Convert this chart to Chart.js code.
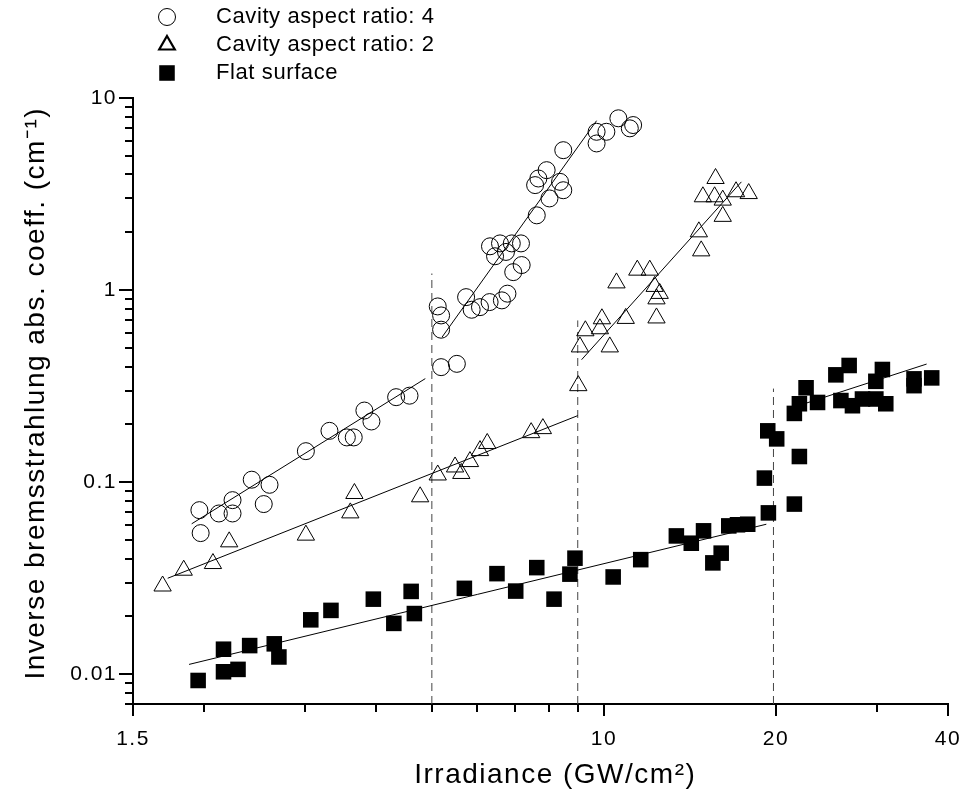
<!DOCTYPE html>
<html>
<head>
<meta charset="utf-8">
<title>Inverse bremsstrahlung absorption vs irradiance</title>
<script src="https://cdn.jsdelivr.net/npm/chart.js@4.4.1/dist/chart.umd.min.js"></script>
<style>
  html, body { margin: 0; padding: 0; background: #fff; }
  #wrap { width: 966px; height: 794px; }
</style>
</head>
<body>
<div id="wrap"><canvas id="absChart" width="966" height="794"></canvas></div>
<script>
// Irradiance (GW/cm^2) and absorption coefficient (1/cm)

// Cavity aspect ratio 4 (open circles)
const ar4Irr  = [1.96, 1.97, 2.12, 2.24, 2.24, 2.42, 2.60, 2.54, 3.01, 3.31, 3.55, 3.65, 3.81, 3.92, 4.33,
                 4.57, 5.19, 5.12, 5.19, 5.19, 5.53, 5.74, 5.87, 6.07, 6.31, 6.63, 6.78, 6.94, 7.18, 6.32,
                 6.45, 6.58, 6.74, 6.90, 7.16, 7.63, 7.58, 7.68, 7.94, 8.03, 8.38, 8.49, 8.49, 9.71, 9.71,
                 10.1, 10.6, 11.1, 11.25];
const ar4Coef = [0.0715, 0.0543, 0.0687, 0.0806, 0.0687, 0.103, 0.0969, 0.0769, 0.145, 0.185, 0.171, 0.171, 0.236, 0.207, 0.277,
                 0.282, 0.397, 0.822, 0.738, 0.622, 0.413, 0.919, 0.790, 0.815, 0.866, 0.884, 0.958, 1.24, 1.35, 1.69,
                 1.50, 1.75, 1.58, 1.75, 1.75, 2.45, 3.52, 3.81, 4.21, 3.00, 3.66, 3.31, 5.35, 6.67, 5.80,
                 6.67, 7.84, 6.95, 7.23];

// Cavity aspect ratio 2 (open triangles)
const ar2Irr  = [1.69, 1.84, 2.07, 2.21, 3.01, 3.60, 3.66, 4.77, 5.12, 5.49, 5.63, 5.83, 6.07, 6.25, 7.46,
                 7.82, 9.02, 9.08, 9.28, 9.84, 9.92, 10.24, 10.92, 10.52, 11.44, 12.03, 12.36, 12.36, 12.52, 12.27,
                 14.66, 14.80, 14.90, 15.62, 16.14, 16.14, 15.68, 17.03, 17.92];
const ar2Coef = [0.0288, 0.0348, 0.0377, 0.0489, 0.053, 0.0692, 0.0873, 0.0839, 0.109, 0.120, 0.111, 0.128, 0.146, 0.159, 0.181,
                 0.190, 0.318, 0.506, 0.614, 0.629, 0.709, 0.506, 0.712, 1.09, 1.27, 1.27, 0.716, 0.900, 0.961, 1.045,
                 2.01, 1.60, 3.06, 3.06, 2.94, 2.42, 3.81, 3.25, 3.18];

// Flat surface (filled squares)
const flatIrr  = [1.95, 2.16, 2.16, 2.29, 2.40, 2.65, 2.70, 3.07, 3.33, 3.95, 4.29, 4.60, 4.66, 5.70, 6.50,
                  7.01, 7.63, 8.18, 8.72, 8.90, 10.38, 11.6, 13.39, 14.22, 14.94, 15.51, 16.04, 16.54, 17.13, 17.85,
                  19.09, 19.40, 19.35, 20.06, 21.98, 21.54, 22.58, 21.98, 21.54, 23.65, 25.46, 26.86, 25.98, 27.22, 28.34,
                  29.91, 30.71, 29.91, 31.13, 34.88, 34.88, 37.46];
const flatCoef = [0.00928, 0.0135, 0.0103, 0.0106, 0.0141, 0.0144, 0.0123, 0.0192, 0.0215, 0.0246, 0.0184, 0.0270, 0.0207, 0.0280, 0.0334,
                  0.0271, 0.0359, 0.0246, 0.0332, 0.0402, 0.0321, 0.0395, 0.0525, 0.0481, 0.0558, 0.0380, 0.0427, 0.0592, 0.0600, 0.0604,
                  0.105, 0.0692, 0.185, 0.168, 0.136, 0.0769, 0.310, 0.256, 0.228, 0.260, 0.362, 0.405, 0.266, 0.250, 0.271,
                  0.335, 0.386, 0.271, 0.256, 0.345, 0.318, 0.349];

// Fitted straight lines (end points of each segment)
const fitAr4LowIrr   = [1.90, 4.87],  fitAr4LowCoef   = [0.0607, 0.346];
const fitAr4HighIrr  = [5.21, 9.71],  fitAr4HighCoef  = [0.569, 7.62];
const fitAr2LowIrr   = [1.725, 9.0],  fitAr2LowCoef   = [0.0316, 0.222];
const fitAr2HighIrr  = [9.14, 17.4],  fitAr2HighCoef  = [0.434, 3.66];
const fitFlatLowIrr  = [1.88, 19.24], fitFlatLowCoef  = [0.01125, 0.0604];
const fitFlatHighIrr = [22.6, 36.7],  fitFlatHighCoef = [0.258, 0.412];

// Dashed threshold markers
const thresholdIrr = [5, 9, 19.8];
const thresholdTop = [1.22, 0.695, 0.307];

// Axis ranges and ticks
const xMin = 1.5, xMax = 40;
const yMin = 0.007, yMax = 10;
const xMajorTicks = [1.5, 10, 20, 40];
const xMinorTicks = [2, 3, 4, 5, 6, 7, 8, 9, 30];
const yMajorTicks = [0.01, 0.1, 1, 10];
const yMinorTicks = [0.007, 0.008, 0.009,
                     0.02, 0.03, 0.04, 0.05, 0.06, 0.07, 0.08, 0.09,
                     0.2, 0.3, 0.4, 0.5, 0.6, 0.7, 0.8, 0.9,
                     2, 3, 4, 5, 6, 7, 8, 9];

const FONT = '"Liberation Sans", Arial, Helvetica, sans-serif';
Chart.defaults.font.family = FONT;
Chart.defaults.color = '#000';

function toPoints(xs, ys) {
    return xs.map((x, i) => ({ x: x, y: ys[i] }));
}

function fitLine(xs, ys) {
    return {
        data: toPoints(xs, ys),
        showLine: true,
        borderColor: '#000',
        borderWidth: 1,
        pointRadius: 0,
        inLegend: false
    };
}

const datasets = [
    {
        label: 'Cavity aspect ratio: 4',
        data: toPoints(ar4Irr, ar4Coef),
        pointStyle: 'circle',
        pointRadius: 8.5,
        borderColor: '#000',
        backgroundColor: 'rgba(0,0,0,0)',
        pointBorderWidth: 1,
        legendBorder: 1
    },
    {
        label: 'Cavity aspect ratio: 2',
        data: toPoints(ar2Irr, ar2Coef),
        pointStyle: 'triangle',
        pointRadius: 10,
        borderColor: '#000',
        backgroundColor: 'rgba(0,0,0,0)',
        pointBorderWidth: 1,
        legendBorder: 2.2
    },
    {
        label: 'Flat surface',
        data: toPoints(flatIrr, flatCoef),
        pointStyle: 'rect',
        pointRadius: 11,
        borderColor: '#000',
        backgroundColor: '#000',
        pointBorderWidth: 0,
        legendBorder: 0
    },
    fitLine(fitAr4LowIrr, fitAr4LowCoef),
    fitLine(fitAr4HighIrr, fitAr4HighCoef),
    fitLine(fitAr2LowIrr, fitAr2LowCoef),
    fitLine(fitAr2HighIrr, fitAr2HighCoef),
    fitLine(fitFlatLowIrr, fitFlatLowCoef),
    fitLine(fitFlatHighIrr, fitFlatHighCoef)
];

// vertical dashed lines from the axis floor up to each threshold top
thresholdIrr.forEach((xv, i) => {
    datasets.push({
        data: [{ x: xv, y: yMin }, { x: xv, y: thresholdTop[i] }],
        showLine: true,
        borderColor: '#444',
        borderWidth: 1,
        borderDash: [8, 5],
        pointRadius: 0,
        inLegend: false
    });
});

// The original lettering is a little spread out
const spacedText = {
    id: 'spacedText',
    afterInit(chart) { chart.ctx.letterSpacing = '1.5px'; },
    beforeLayout(chart) { chart.ctx.letterSpacing = '1.5px'; },
    beforeDraw(chart) { chart.ctx.letterSpacing = '1.5px'; }
};

// Tick marks: long for labelled values, short for the rest
const axisTicks = {
    id: 'axisTicks',
    afterDraw(chart) {
        const { ctx, chartArea } = chart;
        const xs = chart.scales.x, ys = chart.scales.y;
        ctx.save();
        ctx.strokeStyle = '#000';
        ctx.lineWidth = 2;
        ctx.beginPath();
        xMajorTicks.forEach(v => {
            const px = Math.round(xs.getPixelForValue(v));
            ctx.moveTo(px, chartArea.bottom);
            ctx.lineTo(px, chartArea.bottom + 12);
        });
        xMinorTicks.forEach(v => {
            const px = Math.round(xs.getPixelForValue(v));
            ctx.moveTo(px, chartArea.bottom);
            ctx.lineTo(px, chartArea.bottom + 8);
        });
        yMajorTicks.forEach(v => {
            const py = Math.round(ys.getPixelForValue(v));
            ctx.moveTo(chartArea.left, py);
            ctx.lineTo(chartArea.left - 14, py);
        });
        yMinorTicks.forEach(v => {
            const py = Math.round(ys.getPixelForValue(v));
            ctx.moveTo(chartArea.left, py);
            ctx.lineTo(chartArea.left - 8, py);
        });
        ctx.stroke();
        ctx.restore();
    }
};

// Legend stacked in the top-left corner, above the plot
const legendSpot = { markerX: 167, textX: 216, firstY: 17, rowGap: 28 };
const stackedLegend = {
    id: 'stackedLegend',
    afterDraw(chart) {
        const ctx = chart.ctx;
        let row = 0;
        ctx.save();
        ctx.font = '22px ' + FONT;
        ctx.letterSpacing = '0.6px';
        ctx.textBaseline = 'middle';
        ctx.textAlign = 'left';
        chart.data.datasets.forEach(ds => {
            if (ds.inLegend === false) return;
            const y = legendSpot.firstY + row * legendSpot.rowGap;
            ctx.strokeStyle = ds.borderColor;
            ctx.fillStyle = ds.backgroundColor;
            ctx.lineWidth = ds.legendBorder;
            Chart.helpers.drawPoint(ctx, {
                pointStyle: ds.pointStyle,
                radius: ds.pointStyle === 'triangle' ? 9 : ds.pointRadius,
                borderWidth: ds.legendBorder,
                rotation: 0
            }, legendSpot.markerX, y);
            ctx.fillStyle = '#000';
            ctx.fillText(ds.label, legendSpot.textX, y);
            row++;
        });
        ctx.restore();
    }
};

new Chart(document.getElementById('absChart'), {
    type: 'scatter',
    data: { datasets: datasets },
    options: {
        responsive: false,
        animation: false,
        events: [],
        devicePixelRatio: 1,
        layout: { padding: { top: 98, right: 18, bottom: 0, left: 0 } },
        plugins: {
            legend: { display: false },
            tooltip: { enabled: false }
        },
        scales: {
            x: {
                type: 'logarithmic',
                min: xMin,
                max: xMax,
                afterBuildTicks: scale => { scale.ticks = xMajorTicks.map(v => ({ value: v })); },
                afterFit: scale => {
                    scale.height = 90;
                    scale.paddingLeft = 0;
                    scale.paddingRight = 0;
                },
                ticks: {
                    autoSkip: false,
                    maxRotation: 0,
                    padding: 23,
                    font: { size: 21 },
                    color: '#000',
                    callback: value => String(value)
                },
                grid: { display: false, drawTicks: false },
                border: { display: true, color: '#000', width: 2 },
                title: {
                    display: true,
                    // leading em space nudges the centred title to the right, as in the original
                    text: '\u2003Irradiance (GW/cm\u00B2)',
                    font: { size: 28 },
                    color: '#000',
                    padding: { top: 0, bottom: 2 }
                }
            },
            y: {
                type: 'logarithmic',
                min: yMin,
                max: yMax,
                afterBuildTicks: scale => { scale.ticks = yMajorTicks.map(v => ({ value: v })); },
                afterFit: scale => { scale.width = 133; },
                ticks: {
                    autoSkip: false,
                    padding: 16,
                    font: { size: 21 },
                    color: '#000',
                    callback: value => String(value)
                },
                grid: { display: false, drawTicks: false },
                border: { display: true, color: '#000', width: 2 },
                title: {
                    display: true,
                    text: '\u2002Inverse bremsstrahlung abs. coeff. (cm\u207B\u00B9)',
                    font: { size: 28 },
                    color: '#000',
                    padding: { top: 19, bottom: 0 }
                }
            }
        }
    },
    plugins: [spacedText, axisTicks, stackedLegend]
});
</script>
</body>
</html>
